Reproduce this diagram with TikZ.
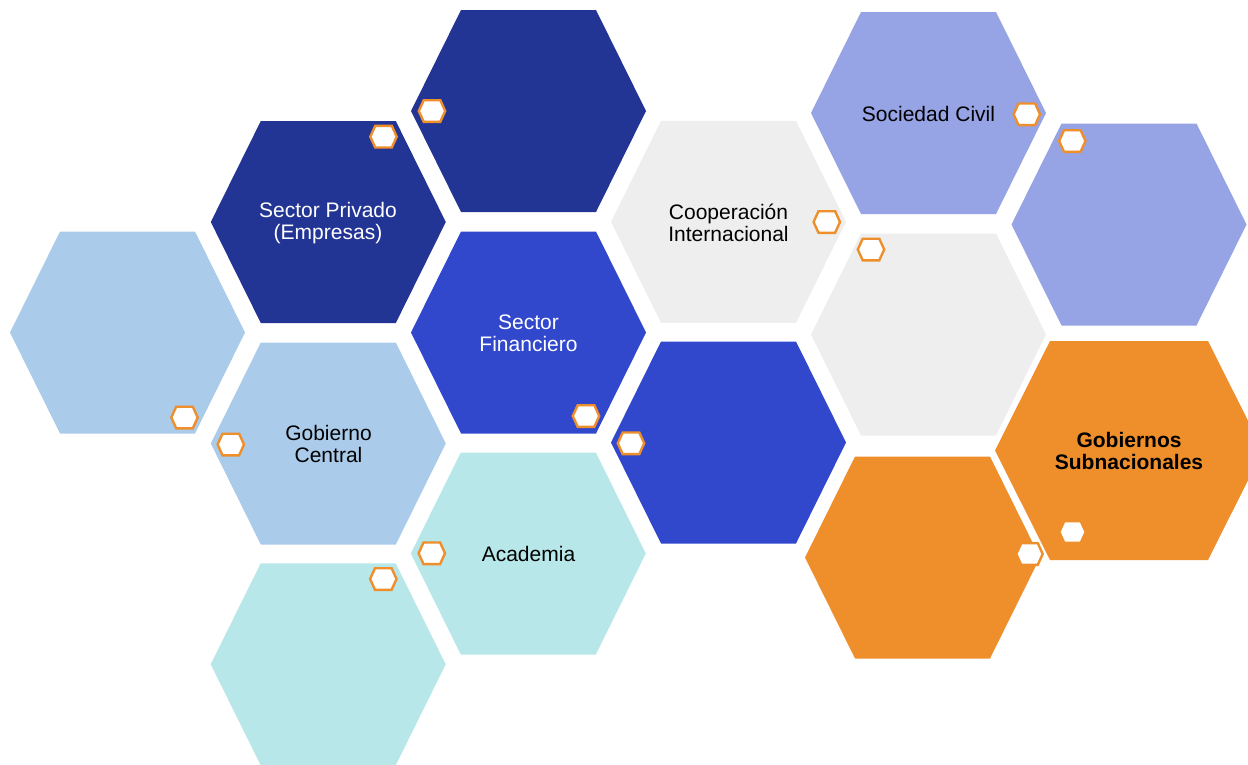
\documentclass[tikz,border=0pt]{standalone}
\usepackage{fontspec}
\setmainfont{Liberation Sans}
\definecolor{navy}{HTML}{233594}
\definecolor{royal}{HTML}{3148CC}
\definecolor{skyb}{HTML}{AACBE9}
\definecolor{cyanl}{HTML}{B8E7E9}
\definecolor{greyl}{HTML}{EEEEEE}
\definecolor{laven}{HTML}{96A3E4}
\definecolor{orng}{HTML}{EF8F2C}
\newcommand{\hexfill}[6]{% colour, cx, cy, half width, top half, half height
  \fill[#1] ({#2-#4},#3) -- ({#2-#5},{#3-#6}) -- ({#2+#5},{#3-#6}) -- ({#2+#4},#3)
    -- ({#2+#5},{#3+#6}) -- ({#2-#5},{#3+#6}) -- cycle;}
\newcommand{\bighex}[3]{\hexfill{#1}{#2}{#3}{117.5}{67.5}{101}}
\newcommand{\smallhex}[2]{%
  \filldraw[fill=white,draw=orng,line width=2.4pt,line join=miter]
    ({#1-13.2},#2) -- ({#1-8.3},{#2-10.8}) -- ({#1+8.3},{#2-10.8}) -- ({#1+13.2},#2)
    -- ({#1+8.3},{#2+10.8}) -- ({#1-8.3},{#2+10.8}) -- cycle;}
\begin{document}
\begin{tikzpicture}[x=1pt,y=-1pt,
  lbl/.style={align=center,inner sep=0pt,font=\fontsize{21}{22}\selectfont},
  lblw/.style={lbl,text=white},
  lblb/.style={lbl,font=\fontsize{21}{22}\selectfont\bfseries}]
\useasboundingbox (0,0) rectangle (1248,764);
\begin{scope}
\clip (0,0) rectangle (1248,764);
% big hexagons
\bighex{skyb}{127.5}{332.5}
\bighex{navy}{328.3}{222}
\bighex{navy}{528.5}{111}
\bighex{royal}{528.5}{332.5}
\bighex{skyb}{328.3}{443.5}
\bighex{cyanl}{528.3}{553.5}
\bighex{cyanl}{328.2}{664.3}
\bighex{greyl}{728.5}{221.8}
\bighex{royal}{728.5}{442.5}
\bighex{greyl}{928.5}{334.5}
\bighex{laven}{928.5}{113}
\bighex{laven}{1129}{224.5}
\bighex{orng}{922.5}{557.5}
\hexfill{orng}{1129}{450.5}{134}{79}{109.5}
% small hexagons
\smallhex{432}{111}
\smallhex{383.5}{136.7}
\smallhex{184.5}{417.5}
\smallhex{230.8}{444.5}
\smallhex{586}{416}
\smallhex{631}{443.3}
\smallhex{431.8}{553.3}
\smallhex{383.3}{579}
\smallhex{826.8}{222}
\smallhex{871}{249.5}
\smallhex{1026.8}{114.3}
\smallhex{1072.3}{141}
\smallhex{1029.5}{554}
\smallhex{1072.5}{532}
\end{scope}
% labels
\node[lblw] (tPriv) at (328,223.5) {Sector Privado\\(Empresas)};
\node[lblw] (tFin) at (528.5,333) {Sector\\Financiero};
\node[lbl] (tGob) at (328.5,444) {Gobierno\\Central};
\node[lbl] (tAcad) at (528.5,553.5) {Academia};
\node[lbl] (tCoop) at (728.5,223) {Cooperación\\Internacional};
\node[lbl] (tSoc) at (928.5,113.5) {Sociedad Civil};
\node[lblb] (tSub) at (1129,451) {Gobiernos\\Subnacionales};
\end{tikzpicture}
\end{document}
